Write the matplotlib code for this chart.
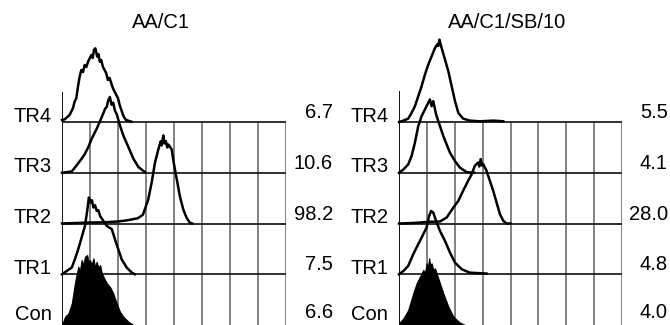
import matplotlib
matplotlib.use("Agg")
import matplotlib.pyplot as plt

plt.rcParams['font.family'] = ['Liberation Sans', 'DejaVu Sans']

TITLES = ["AA/C1", "AA/C1/SB/10"]
LANE_NAMES = ["Con", "TR1", "TR2", "TR3", "TR4"]
LEFT_VALUES = ["6.6", "7.5", "98.2", "10.6", "6.7"]
RIGHT_VALUES = ["4.0", "4.8", "28.0", "4.1", "5.5"]

# ---- Left panel (AA/C1): x in grid units (0-8), heights in counts ----
L_CON_X = [0.0, 0.11, 0.23, 0.35, 0.46, 0.58, 0.64, 0.70, 0.76, 0.82, 0.90, 0.95, 1.0, 1.06, 1.12, 1.18, 1.24, 1.30, 1.36, 1.42, 1.48, 1.54, 1.6, 1.71, 1.83, 1.95, 2.07, 2.19, 2.37, 2.55]
L_CON_Y = [0, 8.3, 11.7, 21.7, 41.7, 58.3, 54, 65, 60, 68.3, 70, 62, 65, 60, 66.7, 58, 63.3, 57, 60, 52, 48.3, 45, 41.7, 38.3, 31.7, 21.7, 13.3, 8.3, 3.3, 0]
L_TR1_X = [0, 0.17, 0.35, 0.46, 0.58, 0.70, 0.82, 0.90, 0.96, 1.02, 1.07, 1.12, 1.18, 1.24, 1.30, 1.36, 1.48, 1.6, 1.78, 1.89, 2.01, 2.13, 2.31, 2.49, 2.6]
L_TR1_Y = [0, 3.3, 6.7, 15, 25, 36.7, 48.3, 63.3, 76.7, 71.7, 74, 66.7, 69, 63.3, 64, 58.3, 53.3, 48.3, 45, 35, 25, 15, 6.7, 1.7, 0]
L_TR2_X = [0, 0.5, 1.0, 1.5, 2.0, 2.36, 2.71, 2.89, 3.08, 3.20, 3.32, 3.44, 3.52, 3.56, 3.62, 3.66, 3.71, 3.76, 3.80, 3.92, 3.98, 4.1, 4.21, 4.33, 4.45, 4.57, 4.65]
L_TR2_Y = [0, 0.5, 1, 1.2, 2, 3.3, 5.3, 8.7, 24, 40.7, 60.7, 74, 82, 78, 88, 80, 82.3, 76, 79, 74, 62.3, 44, 27.3, 14, 5.7, 0.7, 0]
L_TR3_X = [0, 0.35, 0.52, 0.70, 0.82, 0.94, 1.06, 1.24, 1.42, 1.54, 1.60, 1.65, 1.71, 1.77, 1.83, 1.89, 1.95, 2.07, 2.19, 2.37, 2.55, 2.73, 2.96]
L_TR3_Y = [0, 1.3, 7.3, 14, 19, 25.7, 34, 44, 55.7, 64, 66, 72.3, 75.7, 68, 70, 62, 59, 47.3, 37.3, 25.7, 14, 5.7, 0.7]
L_TR4_X = [0.0, 0.10, 0.27, 0.39, 0.45, 0.51, 0.57, 0.63, 0.69, 0.75, 0.81, 0.87, 0.93, 1.05, 1.10, 1.14, 1.19, 1.26, 1.30, 1.35, 1.40, 1.46, 1.58, 1.64, 1.70, 1.76, 1.82, 1.88, 2.0, 2.06, 2.12, 2.18, 2.24, 2.29, 2.48]
L_TR4_Y = [2, 2.7, 7, 13.7, 20.3, 23.7, 35.3, 45.3, 52, 50, 57, 55, 60.3, 67, 64, 72, 73.7, 65.3, 68, 60.3, 62, 55.3, 48.7, 42, 44, 38.7, 33.7, 30.3, 23.7, 17, 12, 7, 3.7, 2, 0.3]

# ---- Right panel (AA/C1/SB/10) ----
R_CON_X = [0, 0.16, 0.33, 0.51, 0.63, 0.75, 0.87, 0.93, 0.99, 1.04, 1.08, 1.12, 1.17, 1.23, 1.29, 1.41, 1.59, 1.77, 1.95, 2.19, 2.37]
R_CON_Y = [1.7, 6.7, 15, 31.7, 41.7, 48.3, 55, 52, 61.7, 58, 66.7, 60, 61.7, 55, 56.7, 46.7, 31.7, 18.3, 8.3, 2.3, 0]
R_TR1_X = [0, 0.16, 0.33, 0.51, 0.69, 0.87, 0.99, 1.08, 1.15, 1.23, 1.33, 1.47, 1.65, 1.83, 2.01, 2.25, 2.54, 3.14]
R_TR1_Y = [0, 3.3, 8.3, 20, 30, 40, 46.6, 58.3, 63.3, 61.6, 53.3, 43.3, 33.3, 21.6, 11.6, 5, 1.6, 0.7]
R_TR2_X = [0, 0.5, 1.11, 1.47, 1.71, 1.95, 2.13, 2.30, 2.48, 2.61, 2.72, 2.84, 2.88, 2.93, 2.98, 3.02, 3.14, 3.26, 3.38, 3.50, 3.62, 3.74, 3.86, 4.0]
R_TR2_Y = [0, 0.5, 1.7, 2, 6, 16, 22.7, 32.7, 42.7, 49.4, 57.7, 61, 57, 64.4, 58, 59.4, 52.7, 42.7, 32.7, 21, 9.4, 2.7, 0, 0]
R_TR3_X = [0, 0.16, 0.33, 0.45, 0.57, 0.69, 0.81, 0.93, 1.05, 1.11, 1.17, 1.23, 1.33, 1.47, 1.59, 1.71, 1.83, 2.01, 2.19, 2.43, 2.7]
R_TR3_Y = [0, 3.3, 8.3, 16.6, 30, 46.6, 56.6, 63.3, 70, 73.3, 66.6, 71.6, 58.3, 46.6, 36.6, 28.3, 20, 11.6, 5, 0.6, 0]
R_TR4_X = [0, 0.16, 0.33, 0.45, 0.57, 0.69, 0.81, 0.93, 1.05, 1.17, 1.29, 1.37, 1.41, 1.45, 1.49, 1.53, 1.65, 1.77, 1.89, 2.01, 2.13, 2.30, 2.54, 2.9, 3.38, 3.74]
R_TR4_Y = [0, 1.4, 3.4, 9, 15.7, 25.7, 35.7, 47.4, 57.4, 65.7, 74, 77.4, 76, 82.4, 78, 74, 62.4, 50.7, 35.7, 20.7, 9, 3.4, 1.4, 0.7, 1.4, 0.7]

LANE = 50.75
FIG_W, FIG_H = 670, 325

fig = plt.figure(figsize=(6.7, 3.25), dpi=100)
FS = 14.5


def panel(left_px, width_px, curves, values, label_x, value_x, axis_top):
    ax = fig.add_axes([left_px / FIG_W, 0, width_px / FIG_W, 1])
    ax.set_xlim(0, 8)
    ax.set_ylim(0, FIG_H)
    ax.axis('off')
    top = 4 * LANE
    for gx in range(1, 9):
        ax.plot([gx, gx], [0, top], color='#606060', lw=1.1, zorder=1, solid_capstyle='butt')
    for k in range(1, 5):
        ax.plot([0, 8], [k * LANE, k * LANE], color='#202020', lw=1.3, zorder=1, solid_capstyle='butt')
    ax.plot([0, 0], [0, axis_top], color='black', lw=1.3, zorder=3, solid_capstyle='butt')
    for k, (xs, ys) in enumerate(curves):
        base = k * LANE
        yy = [base + v for v in ys]
        if k == 0:
            ax.fill_between(xs, base, yy, color='black', lw=0.8, edgecolor='black', zorder=2)
        else:
            ax.plot(xs, yy, color='black', lw=1.8, zorder=2, clip_on=False)
    for k, name in enumerate(LANE_NAMES):
        base = k * LANE
        ax.text(label_x, base + (5 if k == 0 else 0.5), name, ha='right', va='baseline',
                fontsize=FS, clip_on=False)
        ax.text(value_x, base + (7 if k == 0 else 4), values[k], ha='right', va='baseline',
                fontsize=FS, clip_on=False)
    return ax


panel(62, 224,
      [(L_CON_X, L_CON_Y), (L_TR1_X, L_TR1_Y), (L_TR2_X, L_TR2_Y), (L_TR3_X, L_TR3_Y), (L_TR4_X, L_TR4_Y)],
      LEFT_VALUES, -0.36, 9.68, 233)
panel(399, 223,
      [(R_CON_X, R_CON_Y), (R_TR1_X, R_TR1_Y), (R_TR2_X, R_TR2_Y), (R_TR3_X, R_TR3_Y), (R_TR4_X, R_TR4_Y)],
      RIGHT_VALUES, -0.39, 9.64, 234)

fig.text(161 / FIG_W, 1 - 28 / FIG_H, TITLES[0], ha='center', va='baseline', fontsize=FS)
fig.text(507 / FIG_W, 1 - 28 / FIG_H, TITLES[1], ha='center', va='baseline', fontsize=FS)

fig.savefig("out.png", dpi=100)
